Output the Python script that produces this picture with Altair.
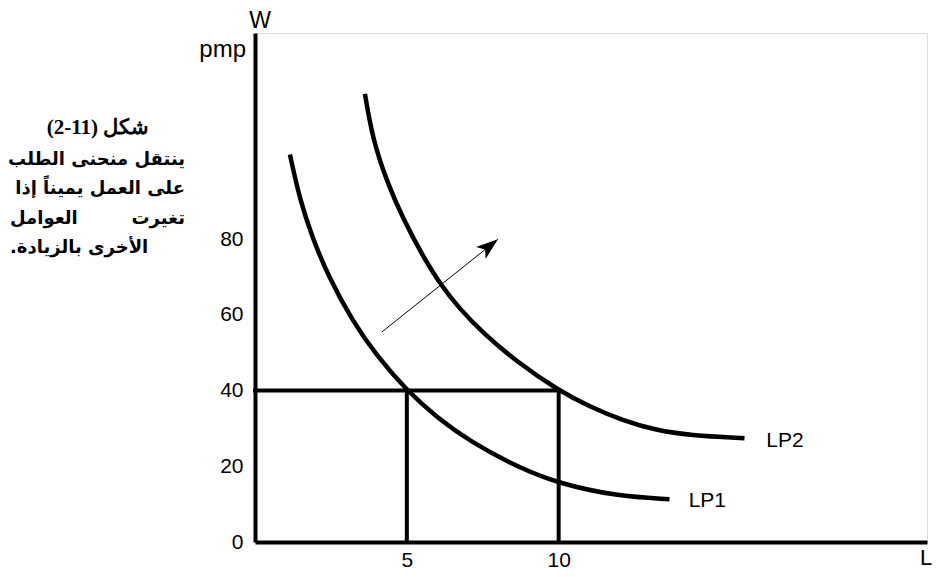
import math
import altair as alt
import pandas as pd

# ---------------- data ----------------
lp1_L = [1.15, 1.48, 1.91, 2.40, 3.22, 4.01, 5.0, 5.99, 7.07, 8.72, 10.0, 11.91, 13.65]
lp1_W = [102.4, 90.3, 80.0, 70.5, 58.2, 49.2, 40.0, 32.9, 26.6, 19.5, 15.5, 12.1, 11.3]

lp2_L = [3.62, 3.88, 4.34, 4.87, 5.53, 6.12, 6.74, 7.50, 8.62, 10.0, 11.02, 12.11, 13.22, 14.31, 16.12]
lp2_W = [118.4, 106.3, 95.3, 85.5, 75.5, 67.9, 61.6, 55.3, 47.6, 40.0, 35.8, 32.1, 29.5, 28.2, 27.4]

y_ticks = [0, 20, 40, 60, 80]
x_ticks = [5, 10]

ref_L = [5, 10]          # employment levels read at the wage
ref_W = 40               # wage level

arrow_L = [4.18, 8.0]
arrow_W = [55.5, 80.0]

curve_names = ["LP1", "LP2"]
label_L = [14.28, 16.84]
label_W = [10.8, 26.6]

RLE, PDF = "\u202b", "\u202c"
caption_title = RLE + "شكل (11-2)" + PDF
caption_l2 = "ينتقل منحنى الطلب"
caption_l3 = "على العمل يميناً إذا"
caption_l4_right = "تغيرت"
caption_l4_left = "العوامل"
caption_l5 = RLE + "الأخرى بالزيادة." + PDF

X_MAX = 22.13
Y_MAX = 134.5

# ---------------- layout ----------------
W_PX = 672
H_PX = 509
AX_FONT = "Liberation Sans"
AR_FONT = "DejaVu Sans"

xs = alt.Scale(domain=[0, X_MAX], nice=False, zero=True)
ys = alt.Scale(domain=[0, Y_MAX], nice=False, zero=True)

x_axis = alt.Axis(values=x_ticks, ticks=False, grid=False, domainWidth=4,
                  domainColor="black", labelFont=AX_FONT, labelFontSize=21,
                  labelColor="black", labelPadding=7, title=None)
y_axis = alt.Axis(values=y_ticks, ticks=False, grid=False, domainWidth=4,
                  domainColor="black", labelFont=AX_FONT, labelFontSize=21,
                  labelColor="black", labelPadding=12, title=None)

X = lambda f="L": alt.X(f"{f}:Q", scale=xs, axis=x_axis)
Y = lambda f="W": alt.Y(f"{f}:Q", scale=ys, axis=y_axis)

curves = pd.DataFrame({
    "L": lp1_L + lp2_L,
    "W": lp1_W + lp2_W,
    "curve": ["LP1"] * len(lp1_L) + ["LP2"] * len(lp2_L),
})

lines = alt.Chart(curves).mark_line(
    color="black", strokeWidth=4.5, interpolate="basis", strokeCap="butt"
).encode(x=X(), y=Y(), detail="curve:N")

hrule = alt.Chart(pd.DataFrame({"L": [0], "L2": [max(ref_L)], "W": [ref_W]})).mark_rule(
    color="black", strokeWidth=4, strokeCap="square"
).encode(x=X(), x2="L2:Q", y=Y())

vrule = alt.Chart(pd.DataFrame({"L": ref_L, "W": [0] * len(ref_L), "W2": [ref_W] * len(ref_L)})).mark_rule(
    color="black", strokeWidth=4, strokeCap="square"
).encode(x=X(), y=Y(), y2="W2:Q")

arrow_df = pd.DataFrame({"L": [arrow_L[0]], "L2": [arrow_L[1]], "W": [arrow_W[0]], "W2": [arrow_W[1]]})
arrow_line = alt.Chart(arrow_df).mark_rule(color="black", strokeWidth=1).encode(
    x=X(), x2="L2:Q", y=Y(), y2="W2:Q")

dx_px = (arrow_L[1] - arrow_L[0]) * W_PX / X_MAX
dy_px = (arrow_W[1] - arrow_W[0]) * H_PX / Y_MAX
head_angle = math.degrees(math.atan2(dx_px, dy_px))

arrow_head = alt.Chart(pd.DataFrame({"L": [arrow_L[1]], "W": [arrow_W[1]]})).mark_point(
    shape="M0,0 L0.7,2 L0,1.5 L-0.7,2 Z", filled=True, color="black", opacity=1,
    size=480, angle=head_angle, strokeWidth=0
).encode(x=X(), y=Y())

labels = alt.Chart(pd.DataFrame({"L": label_L, "W": label_W, "t": curve_names})).mark_text(
    font=AX_FONT, fontSize=21, align="left", baseline="middle", color="black"
).encode(x=X(), y=Y(), text="t:N")


def txt(s, x, y, align="center", baseline="middle", font=AX_FONT, size=22, weight="normal"):
    return alt.Chart(pd.DataFrame({"t": [s]})).mark_text(
        font=font, fontSize=size, align=align, baseline=baseline,
        color="black", fontWeight=weight
    ).encode(x=alt.value(x), y=alt.value(y), text="t:N")


annos = [
    txt("W", 5, -5, baseline="alphabetic", size=23),
    txt("pmp", -9, 24, align="right", baseline="alphabetic", size=24),
    txt("L", 665, 532, align="left", baseline="alphabetic", size=22),
    txt(caption_title, -157, 95, size=21, weight="bold", font="Liberation Serif"),
    txt(caption_l2, -70, 127, align="right", size=18, weight="bold", font=AR_FONT),
    txt(caption_l3, -70, 156, align="right", size=18, weight="bold", font=AR_FONT),
    txt(caption_l4_left, -245, 186, align="left", size=18, weight="bold", font=AR_FONT),
    txt(caption_l4_right, -70, 186, align="right", size=18, weight="bold", font=AR_FONT),
    txt(caption_l5, -245, 215, align="left", size=18, weight="bold", font=AR_FONT),
]

chart = alt.layer(hrule, vrule, lines, arrow_line, arrow_head, labels, *annos).properties(
    width=W_PX, height=H_PX,
    padding={"left": 247, "top": 25, "right": 10, "bottom": 27},
    autosize=alt.AutoSizeParams(type="none"),
).configure_view(stroke=None).configure(background="white")

chart.save("out.html", embed_options={"renderer": "svg", "actions": False})
